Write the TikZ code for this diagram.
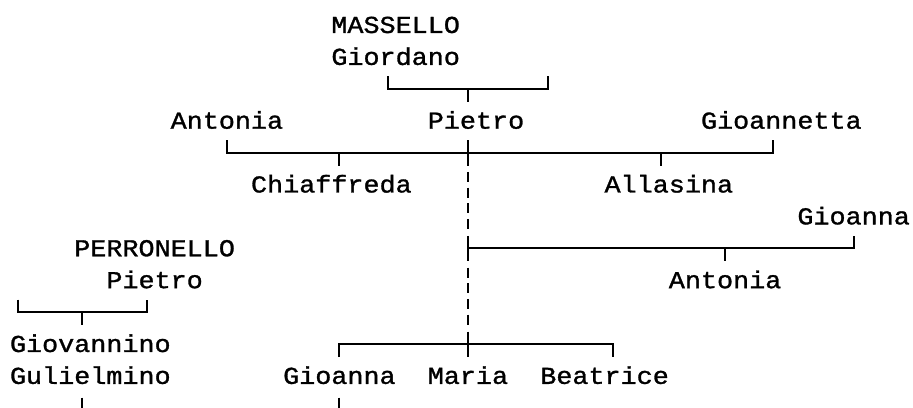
\documentclass[tikz,border=0pt]{standalone}
\usepackage{fontspec}
\newfontfamily\treefont[FakeStretch=1.102,FakeBold=1.2]{Liberation Mono}
\begin{document}
\begin{tikzpicture}[
  x=16.07pt, y=-31.9pt,
  person/.style={inner sep=0pt, outer sep=0pt, anchor=base west,
    font=\treefont\fontsize{24.3pt}{30pt}\selectfont},
  link/.style={line width=2pt, line cap=butt, line join=miter},
  dlink/.style={link, dash pattern=on 10pt off 5.63pt},
]
\useasboundingbox (-18pt,25pt) rectangle (895pt,-382pt);

% ---- people (text) ----
\node[person] (massello)   at (19.5,0.25)  {MASSELLO};
\node[person] (giordano)   at (19.5,1.25)  {Giordano};
\node[person] (antoniaA)   at (9.5,3.25)   {Antonia};
\node[person] (pietroA)    at (25.5,3.25)  {Pietro};
\node[person] (gioannetta) at (42.5,3.25)  {Gioannetta};
\node[person] (chiaffreda) at (14.5,5.25)  {Chiaffreda};
\node[person] (allasina)   at (36.5,5.25)  {Allasina};
\node[person] (gioannaA)   at (48.5,6.25)  {Gioanna};
\node[person] (perronello) at (3.5,7.25)   {PERRONELLO};
\node[person] (pietroB)    at (5.5,8.25)   {Pietro};
\node[person] (antoniaB)   at (40.5,8.25)  {Antonia};
\node[person] (giovannino) at (-0.5,10.25) {Giovannino};
\node[person] (gulielmino) at (-0.5,11.25) {Gulielmino};
\node[person] (gioannaB)   at (16.5,11.25) {Gioanna};
\node[person] (maria)      at (25.5,11.25) {Maria};
\node[person] (beatrice)   at (32.5,11.25) {Beatrice};

% ---- junction coordinates ----
\coordinate (gA1) at (23,1.608); \coordinate (gA2) at (33,1.608);
\coordinate (gAL) at (23,2);     \coordinate (gAR) at (33,2);
\coordinate (gAm) at (28,2);     \coordinate (gAd) at (28,2.408);

\coordinate (mB1) at (13,3.608); \coordinate (mB2) at (47,3.608);
\coordinate (mBL) at (13,4);     \coordinate (mBR) at (47,4);
\coordinate (mBu) at (28,3.608); \coordinate (mBd) at (28,4.408);
\coordinate (cBm) at (20,4);     \coordinate (cBd) at (20,4.408);
\coordinate (aBm) at (40,4);     \coordinate (aBd) at (40,4.408);

\coordinate (dA1) at (28,4.608); \coordinate (dA2) at (28,6.392);

\coordinate (mCu) at (28,6.608); \coordinate (mCd) at (28,7.408);
\coordinate (mCm) at (28,7);     \coordinate (mCR) at (52,7);
\coordinate (mC2) at (52,6.608);
\coordinate (aCm) at (44,7);     \coordinate (aCd) at (44,7.408);

\coordinate (dB1) at (28,7.608); \coordinate (dB2) at (28,9.392);

\coordinate (pD1) at (0,8.608);  \coordinate (pD2) at (8,8.608);
\coordinate (pDL) at (0,9);      \coordinate (pDR) at (8,9);
\coordinate (pDm) at (4,9);      \coordinate (pDd) at (4,9.408);

\coordinate (mEu) at (28,9.608); \coordinate (mEd) at (28,10.408);
\coordinate (mEL) at (20,10);    \coordinate (mER) at (37,10);
\coordinate (mE1) at (20,10.408);\coordinate (mE2) at (37,10.408);

\coordinate (gF1) at (4,11.68);  \coordinate (gF2) at (4,12.5);
\coordinate (gG1) at (20,11.68); \coordinate (gG2) at (20,12.5);

% ---- connectors ----
\draw[link] (gA1) -- (gAL) -- (gAR) -- (gA2);
\draw[link] (gAm) -- (gAd);

\draw[link] (mB1) -- (mBL) -- (mBR) -- (mB2);
\draw[link] (mBu) -- (mBd);
\draw[link] (cBm) -- (cBd);
\draw[link] (aBm) -- (aBd);

\draw[dlink] (dA1) -- (dA2);

\draw[link] (mCu) -- (mCd);
\draw[link] (mCm) -- (mCR) -- (mC2);
\draw[link] (aCm) -- (aCd);

\draw[dlink] (dB1) -- (dB2);

\draw[link] (pD1) -- (pDL) -- (pDR) -- (pD2);
\draw[link] (pDm) -- (pDd);

\draw[link] (mEu) -- (mEd);
\draw[link] (mE1) -- (mEL) -- (mER) -- (mE2);

\draw[link] (gF1) -- (gF2);
\draw[link] (gG1) -- (gG2);
\end{tikzpicture}
\end{document}
